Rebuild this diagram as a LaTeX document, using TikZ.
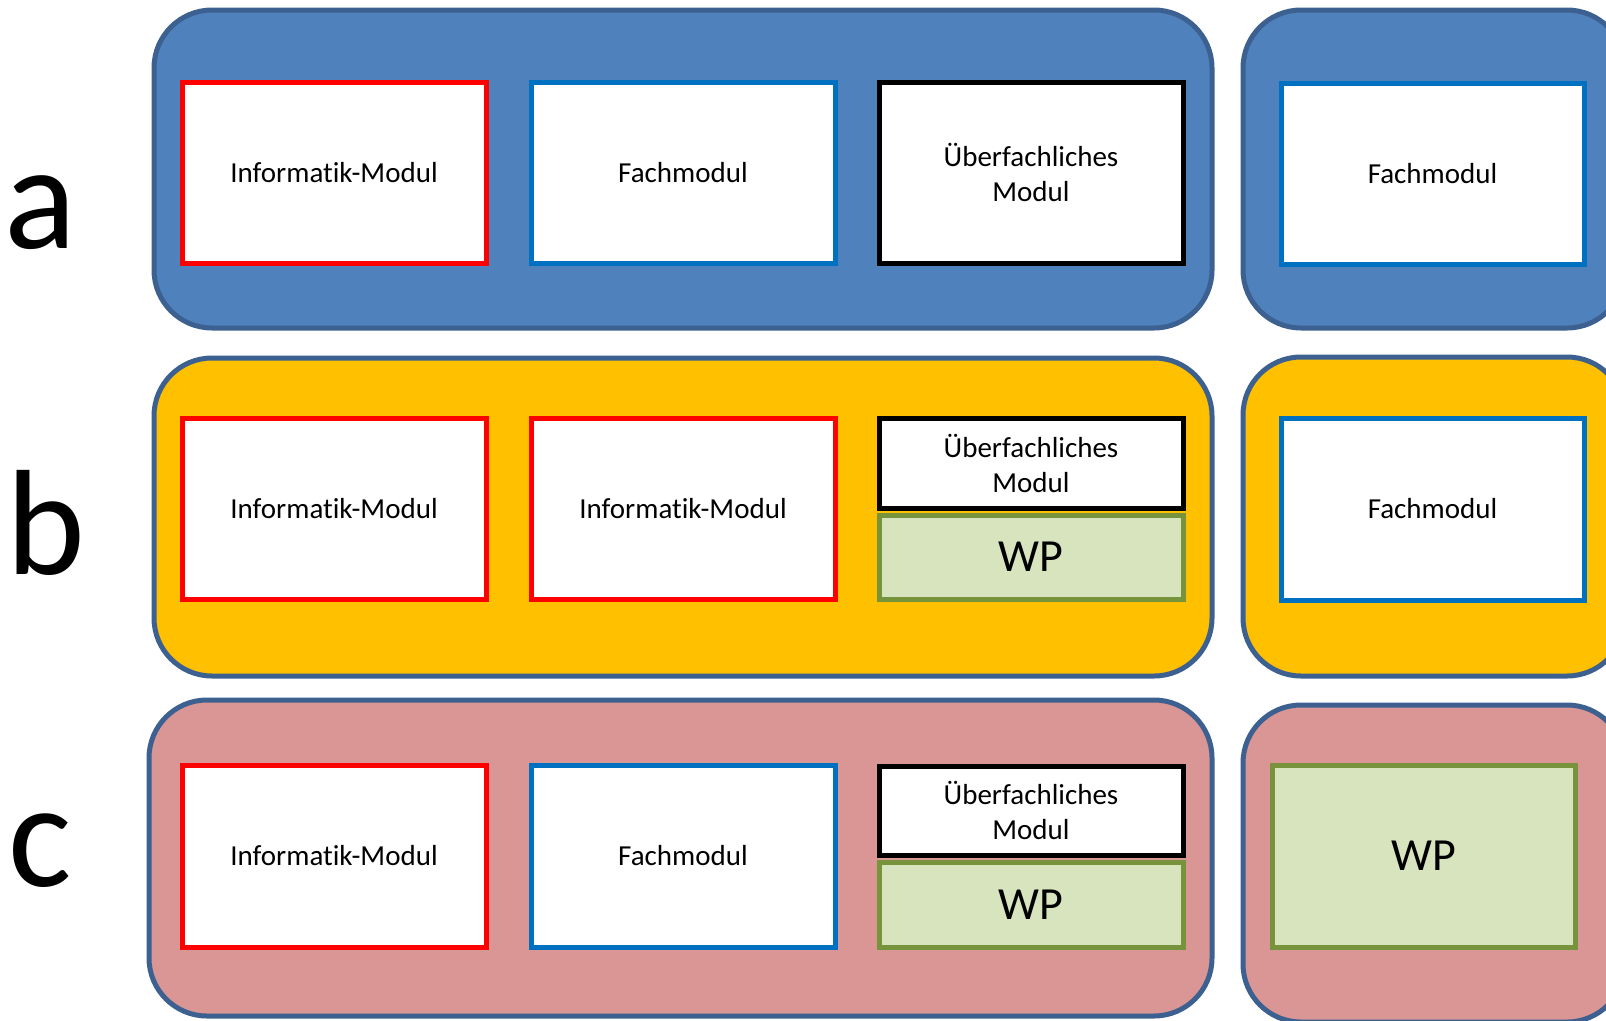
\documentclass[tikz,border=0pt]{standalone}
\usepackage{fontspec}
\setmainfont{Carlito}[Ligatures=NoCommon]
\definecolor{bluefill}{HTML}{4F81BD}
\definecolor{yellowfill}{HTML}{FFC000}
\definecolor{pinkfill}{HTML}{D99694}
\definecolor{bordc}{HTML}{3C6090}
\definecolor{redc}{HTML}{FF0000}
\definecolor{bluec}{HTML}{0070C0}
\definecolor{greenfill}{HTML}{D7E4BD}
\definecolor{greenc}{HTML}{77933C}
\tikzset{
  bigbox/.style={draw=bordc, line width=5pt, rounded corners=58pt, inner sep=0pt},
  modbox/.style={draw, line width=5pt, fill=white, inner sep=0pt, align=center,
    font=\fontsize{29}{35}\selectfont, minimum width=304pt},
  infbox/.style={modbox, draw=redc},
  fachbox/.style={modbox, draw=bluec},
  uebbox/.style={modbox, draw=black, line width=5pt},
  wpbox/.style={modbox, draw=greenc, fill=greenfill, font=\fontsize{46}{55}\selectfont},
  letter/.style={anchor=base, inner sep=0pt, font=\fontsize{150}{180}\selectfont},
}
\begin{document}
\begin{tikzpicture}[x=1pt,y=-1pt]
\useasboundingbox (0,0) rectangle (1606,1020);
\clip (0,0) rectangle (1606,1020);
% row a
\node[letter] (la) at (40,248) {a};
\node[bigbox, fill=bluefill, minimum width=1058pt, minimum height=318pt] (A) at (683,169) {};
\node[bigbox, fill=bluefill, minimum width=382pt, minimum height=318pt] (AR) at (1434,169) {};
\node[infbox, minimum height=181pt] (a1) at (334,172.5) {Informatik-Modul};
\node[fachbox, minimum height=181pt] (a2) at (683,172.5) {Fachmodul};
\node[uebbox, minimum height=181pt] (a3) at (1031,172.5) {Überfachliches\\Modul};
\node[fachbox, minimum width=303pt, minimum height=181pt] (a4) at (1432.5,173.5) {Fachmodul};
% row b
\node[letter] (lb) at (46,574) {b};
\node[bigbox, fill=yellowfill, minimum width=1058pt, minimum height=318pt] (B) at (683,517) {};
\node[bigbox, fill=yellowfill, minimum width=382pt, minimum height=319pt] (BR) at (1434,516.5) {};
\node[infbox, minimum height=181pt] (b1) at (334,508.5) {Informatik-Modul};
\node[infbox, minimum height=181pt] (b2) at (683,508.5) {Informatik-Modul};
\node[uebbox, minimum height=90pt] (b3) at (1031,463) {Überfachliches\\Modul};
\node[wpbox, minimum height=84pt] (b4) at (1031,557) {WP};
\node[fachbox, minimum width=303pt, minimum height=182pt] (b5) at (1432.5,509) {Fachmodul};
% row c
\node[letter] (lc) at (40,886) {c};
\node[bigbox, fill=pinkfill, minimum width=1063pt, minimum height=316pt] (C) at (680.5,858) {};
\node[bigbox, fill=pinkfill, minimum width=382pt, minimum height=317pt] (CR) at (1434,863.5) {};
\node[infbox, minimum height=182pt] (c1) at (334,856) {Informatik-Modul};
\node[fachbox, minimum height=182pt] (c2) at (683,856) {Fachmodul};
\node[uebbox, minimum height=89pt] (c3) at (1031,810.5) {Überfachliches\\Modul};
\node[wpbox, minimum height=85pt] (c4) at (1031,904.5) {WP};
\node[wpbox, minimum width=303pt, minimum height=182pt] (c5) at (1423.5,856) {WP};
\end{tikzpicture}
\end{document}
